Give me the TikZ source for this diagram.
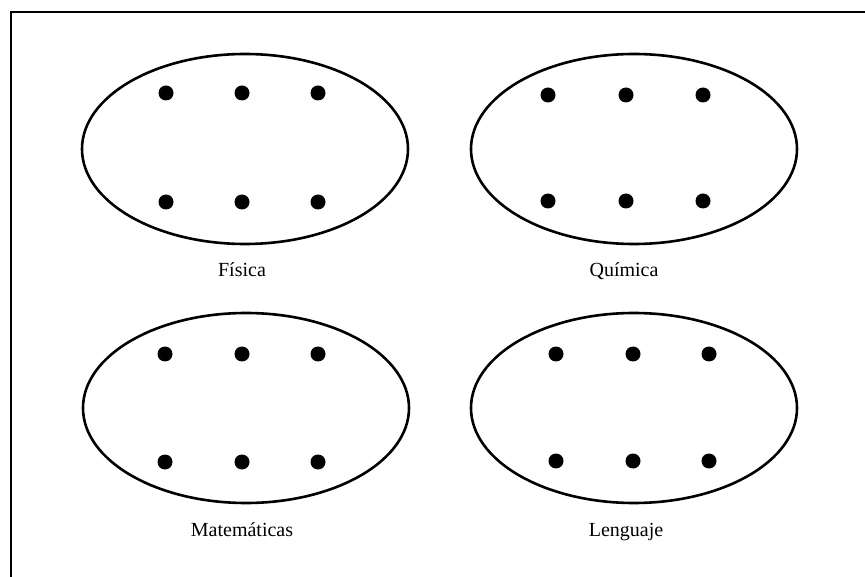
\documentclass[tikz,border=0pt]{standalone}
\usepackage{fontspec}
\setmainfont{Liberation Serif}
\usetikzlibrary{shapes.geometric}

\tikzset{
  conjunto/.style={draw, ellipse, line width=2.6pt, minimum width=326pt, minimum height=190pt, inner sep=0pt},
  elemento/.style={circle, fill, minimum size=15pt, inner sep=0pt},
  rotulo/.style={anchor=base, font=\fontsize{20}{24}\selectfont},
}

\begin{document}
\begin{tikzpicture}[x=1pt,y=-1pt]
  \useasboundingbox (0,0) rectangle (865,577);
  \draw[line width=1.8pt] (11,577) -- (11,12) -- (865,12);

  \node[conjunto] (fisica) at (245,149) {};
  \node[conjunto] (quimica) at (634,149) {};
  \node[conjunto] (mate) at (246,408) {};
  \node[conjunto] (lengua) at (634,408) {};

  \foreach \x [count=\i] in {166,242,318} {
    \node[elemento] (f\i a) at (\x,93) {};
    \node[elemento] (f\i b) at (\x,202) {};
  }
  \foreach \x [count=\i] in {548,626,703} {
    \node[elemento] (q\i a) at (\x,95) {};
    \node[elemento] (q\i b) at (\x,201) {};
  }
  \foreach \x [count=\i] in {165,242,318} {
    \node[elemento] (m\i a) at (\x,354) {};
    \node[elemento] (m\i b) at (\x,462) {};
  }
  \foreach \x [count=\i] in {556,633,709} {
    \node[elemento] (l\i a) at (\x,354) {};
    \node[elemento] (l\i b) at (\x,461) {};
  }

  \node[rotulo] (tfisica) at (242,277) {Física};
  \node[rotulo] (tquimica) at (624,277) {Química};
  \node[rotulo] (tmate) at (242,536) {Matemáticas};
  \node[rotulo] (tlengua) at (626,536) {Lenguaje};
\end{tikzpicture}
\end{document}
